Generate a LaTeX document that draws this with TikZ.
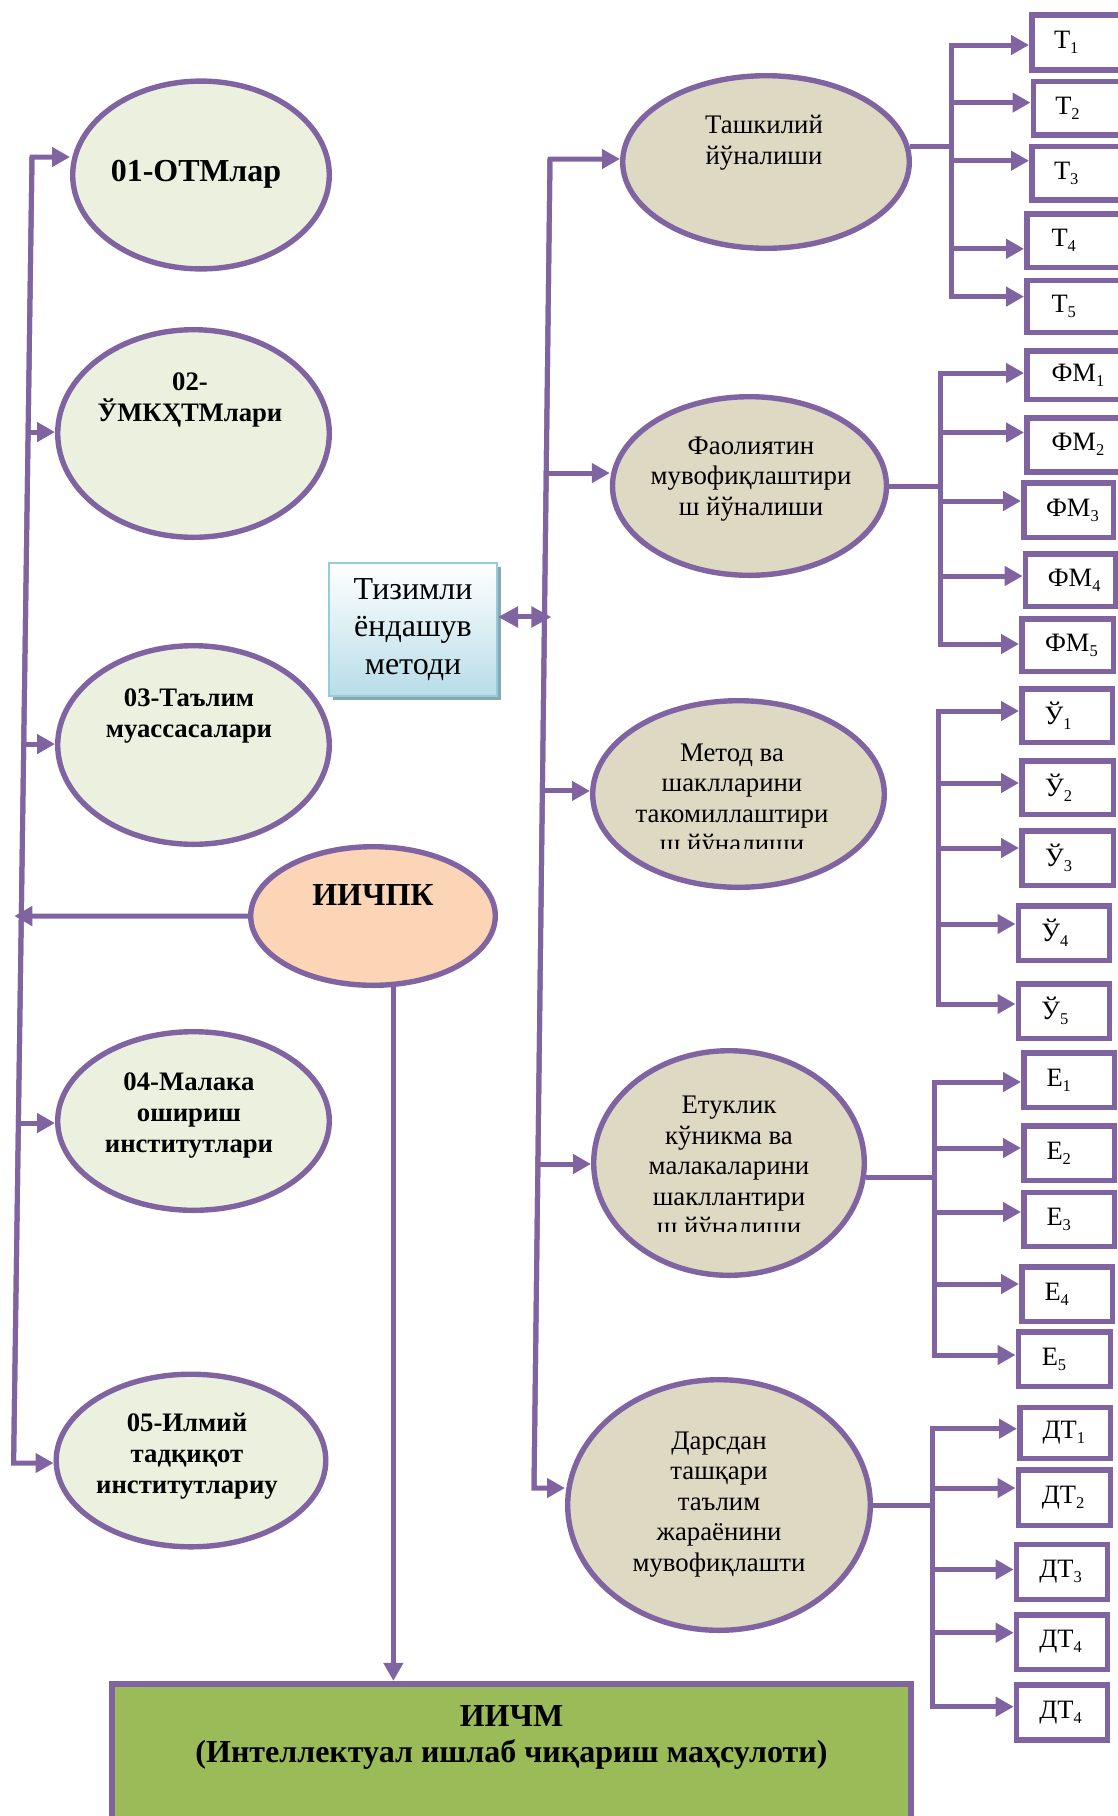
\documentclass[tikz,border=0pt]{standalone}
\usepackage{fontspec}
\setmainfont{Liberation Serif}
\usetikzlibrary{arrows.meta,shapes.geometric,calc,shadows}
\definecolor{pur}{HTML}{8064A2}
\definecolor{lg}{HTML}{EBF1DE}
\definecolor{tanf}{HTML}{DDD9C3}
\definecolor{peach}{HTML}{FBD5B5}
\definecolor{grn}{HTML}{9BBB59}
\definecolor{tzb}{HTML}{B7DDE8}
\definecolor{tzd}{HTML}{92CDDC}
\definecolor{tzs}{HTML}{8AA6B0}
\newcommand{\SB}[1]{\raisebox{-5pt}{\fontsize{16.5}{16.5}\selectfont #1}}
\newcommand{\MyBox}[6]{\node[bxs, minimum width={(#4-#2-5.5)*1pt}, minimum height={(#5-#3-5.5)*1pt}] (#1) at ({(#2+#4)/2},{(#3+#5)/2}) {#6};}
\tikzset{
  ln/.style={draw=pur, line width=5pt},
  arr/.style={ln, -{Triangle[length=18pt,width=19pt]}},
  ell/.style={ellipse, draw=pur, line width=5.4pt, inner sep=0pt},
  bxs/.style={rectangle, draw=pur, line width=5.5pt, fill=white, inner xsep=22pt, inner ysep=0pt, text width=45pt, align=left, font=\fontsize{26.5}{28}\selectfont},
  lt/.style={align=center, font=\fontsize{26.8}{30.5}\selectfont, inner sep=0pt},
  lb/.style={align=center, font=\bfseries\fontsize{26.7}{31}\selectfont, inner sep=0pt},
}
\begin{document}
\begin{tikzpicture}[x=1pt,y=-1pt]
\useasboundingbox (0,0) rectangle (1118,1816);
\clip (0,0) rectangle (1118,1816);

% ---------- left ellipses ----------
\node[ell, fill=lg, minimum width=256.6pt, minimum height=187.8pt] (e01) at (201,175) {};
\node[ell, fill=lg, minimum width=271.6pt, minimum height=207.6pt] (e02) at (193.5,433.5) {};
\node[ell, fill=lg, minimum width=271.6pt, minimum height=198.6pt] (e03) at (193.5,745) {};
\node[ell, fill=lg, minimum width=271.6pt, minimum height=178.6pt] (e04) at (193.5,1121) {};
\node[ell, fill=lg, minimum width=269.6pt, minimum height=172.6pt] (e05) at (191,1460.5) {};
\node[ell, fill=peach, minimum width=244.6pt, minimum height=138.6pt] (ii) at (373,916) {};

\node[align=center, inner sep=0pt, font=\bfseries\fontsize{32}{36}\selectfont] (t01) at (196,174) {01-ОТМлар};
\node[lb] (t02) at (190,400) {02-\\ЎМКҲТМлари};
\node[lb] (t03) at (189,716) {03-Таълим\\муассасалари};
\node[lb] (t04) at (189,1115) {04-Малака\\ошириш\\институтлари};
\node[lb] (t05) at (187,1456) {05-Илмий\\тадқиқот\\институтлариу};
\node[align=center, inner sep=0pt, font=\bfseries\fontsize{32}{36}\selectfont] (tii) at (373,895) {ИИЧПК};

% ---------- system approach box ----------
\node[rectangle, draw=tzd, line width=2pt, top color=white, bottom color=tzb,
      general shadow={fill=tzs, shadow xshift=4pt, shadow yshift=-4pt},
      minimum width=168pt, minimum height=133pt, inner sep=0pt] (tz) at (413,629.5) {};
\node[align=center, inner sep=0pt, font=\fontsize{32}{37.5}\selectfont] (ttz) at (413,629.5) {Тизимли\\ёндашув\\методи};

% ---------- right ellipses ----------
\node[ell, fill=tanf, minimum width=286.6pt, minimum height=172.6pt] (tash) at (766,162) {};
\node[ell, fill=tanf, minimum width=274pt, minimum height=178.6pt] (faol) at (749.5,486) {};
\node[ell, fill=tanf, minimum width=291.6pt, minimum height=186.6pt] (metod) at (738.5,794) {};
\node[ell, fill=tanf, minimum width=270.6pt, minimum height=224.6pt] (etuk) at (729,1163) {};
\node[ell, fill=tanf, minimum width=302.6pt, minimum height=250.6pt] (dars) at (719,1505) {};

\node[lt] (ttash) at (764,142.5) {Ташкилий\\йўналиши};
\node[lt] (tfaol) at (751,479) {Фаолиятин\\мувофиқлаштири\\ш йўналиши};
\begin{scope}
\clip (560,700) rectangle (900,848);
\node[lt] (tmetod) at (732,801) {Метод ва\\шаклларини\\такомиллаштири\\ш йўналиши};
\end{scope}
\begin{scope}
\clip (560,1060) rectangle (900,1231);
\node[lt] (tetuk) at (729,1169) {Етуклик\\кўникма ва\\малакаларини\\шакллантири\\ш йўналиши};
\end{scope}
\node[lt] (tdars) at (719,1504.5) {Дарсдан\\ташқари\\таълим\\жараёнини\\мувофиқлашти};

% ---------- bottom box ----------
\node[rectangle, draw=pur, line width=6.5pt, fill=grn, minimum width=798.6pt, minimum height=145.8pt, inner sep=0pt] (iichm) at (511.5,1757) {};
\node[align=center, inner sep=0pt, font=\bfseries\fontsize{32}{36}\selectfont] (tiichm) at (511.5,1737) {ИИЧМ\\(Интеллектуал ишлаб чиқариш маҳсулоти)};

% ---------- small boxes ----------
\MyBox{T1}{1029}{12}{1124}{72.7}{Т\SB{1}}
\MyBox{T2}{1031.5}{78.5}{1124}{137.8}{Т\SB{2}}
\MyBox{T3}{1029}{143.5}{1124}{202.8}{Т\SB{3}}
\MyBox{T4}{1024}{211}{1124}{270}{Т\SB{4}}
\MyBox{T5}{1024}{277.5}{1124}{335}{Т\SB{5}}
\MyBox{F1}{1024}{348}{1124}{402}{ФМ\SB{1}}
\MyBox{F2}{1024}{415}{1124}{474.5}{ФМ\SB{2}}
\MyBox{F3}{1021}{480}{1116}{540}{ФМ\SB{3}}
\MyBox{F4}{1022.6}{551}{1118}{609}{ФМ\SB{4}}
\MyBox{F5}{1019}{616}{1116}{674}{ФМ\SB{5}}
\MyBox{U1}{1019}{686}{1115}{745}{Ў\SB{1}}
\MyBox{U2}{1019}{758}{1116}{817}{Ў\SB{2}}
\MyBox{U3}{1019}{828}{1116}{888}{Ў\SB{3}}
\MyBox{U4}{1015.5}{903}{1112}{963}{Ў\SB{4}}
\MyBox{U5}{1015.5}{981}{1112}{1041}{Ў\SB{5}}
\MyBox{E1}{1021}{1050}{1117}{1110}{Е\SB{1}}
\MyBox{E2}{1021}{1123}{1117}{1183}{Е\SB{2}}
\MyBox{E3}{1021}{1189.5}{1117}{1249}{Е\SB{3}}
\MyBox{E4}{1019}{1264}{1115}{1324}{Е\SB{4}}
\MyBox{E5}{1015.5}{1329}{1113}{1389}{Е\SB{5}}
\MyBox{D1}{1017}{1404.5}{1113}{1461}{ДТ\SB{1}}
\MyBox{D2}{1015.5}{1467}{1113}{1528}{ДТ\SB{2}}
\MyBox{D3}{1013.7}{1541.7}{1110}{1602}{ДТ\SB{3}}
\MyBox{D4}{1013.7}{1612}{1110}{1672}{ДТ\SB{4}}
\MyBox{D5}{1013.7}{1682}{1110}{1742.8}{ДТ\SB{4}}

% ---------- left trunk ----------
\coordinate (L1) at (32,157);
\coordinate (L5) at (13.6,1463);
\coordinate (L2) at ($(L1)!0.2106!(L5)$);
\coordinate (L3) at ($(L1)!0.4495!(L5)$);
\coordinate (Lk) at ($(L1)!0.5812!(L5)+(-7,0)$);
\coordinate (L4) at ($(L1)!0.7397!(L5)$);
\draw[arr] (L5) -- (L1) -- (L1 -| e01.west);
\draw[arr] (L1) -- (L5) -- (L5 -| e05.west);
\draw[arr] (L2) -- (L2 -| e02.west);
\draw[arr] (L3) -- (L3 -| e03.west);
\draw[arr] (L4) -- (L4 -| e04.west);
\draw[arr] (ii.west) -- (Lk);
\draw[arr] (ii.-74) -- (ii.-74 |- iichm.north);

% ---------- right trunk ----------
\coordinate (R1) at (550,159);
\coordinate (R6) at (534,1488);
\coordinate (R2) at ($(R1)!0.2363!(R6)$);
\coordinate (Rt) at ($(R1)!0.3446!(R6)+(7,0)$);
\coordinate (R3) at ($(R1)!0.4755!(R6)$);
\coordinate (R4) at ($(R1)!0.7562!(R6)$);
\draw[arr] (R6) -- (R1) -- (R1 -| tash.west);
\draw[arr] (R1) -- (R6) -- (R6 -| dars.west);
\draw[arr] (R2) -- (R2 -| faol.west);
\draw[arr] (R3) -- (R3 -| metod.west);
\draw[arr] (R4) -- (R4 -| etuk.west);
\draw[ln, {Triangle[length=20pt,width=20pt]}-{Triangle[length=20pt,width=20pt]}] (tz.east |- Rt) -- (Rt);

% ---------- T bracket ----------
\coordinate (Tt) at (951.5,45);
\coordinate (Tb) at (951.5,296.6);
\coordinate (T2a) at (951.5,102.6);
\coordinate (T3a) at (951.5,160.7);
\coordinate (T4a) at (951.5,248.8);
\draw[ln] (tash.6) -- (tash.6 -| Tt);
\draw[arr] (Tb) -- (Tt) -- (Tt -| T1.west);
\draw[arr] (Tt) -- (Tb) -- (Tb -| T5.west);
\draw[arr] (T2a) -- (T2a -| T2.west);
\draw[arr] (T3a) -- (T3a -| T3.west);
\draw[arr] (T4a) -- (T4a -| T4.west);

% ---------- FM bracket ----------
\coordinate (Ft) at (940,373);
\coordinate (Fb) at (940,644);
\coordinate (F2a) at (940,432.5);
\coordinate (F3a) at (940,501);
\coordinate (F4a) at (940,576);
\draw[ln] (faol.east) -- (faol.east -| Ft);
\draw[arr] (Fb) -- (Ft) -- (Ft -| F1.west);
\draw[arr] (Ft) -- (Fb) -- (Fb -| F5.west);
\draw[arr] (F2a) -- (F2a -| F2.west);
\draw[arr] (F3a) -- (F3a -| F3.west);
\draw[arr] (F4a) -- (F4a -| F4.west);

% ---------- U bracket ----------
\coordinate (Ut) at (938,711);
\coordinate (Ub) at (938,1004);
\coordinate (U2a) at (938,783);
\coordinate (U3a) at (938,848);
\coordinate (U4a) at (938,924);
\draw[arr] (Ub) -- (Ut) -- (Ut -| U1.west);
\draw[arr] (Ut) -- (Ub) -- (Ub -| U5.west);
\draw[arr] (U2a) -- (U2a -| U2.west);
\draw[arr] (U3a) -- (U3a -| U3.west);
\draw[arr] (U4a) -- (U4a -| U4.west);

% ---------- E bracket ----------
\coordinate (Et) at (934,1082);
\coordinate (Eb) at (934,1355);
\coordinate (E2a) at (934,1148);
\coordinate (E3a) at (934,1212);
\coordinate (E4a) at (934,1284);
\draw[ln] (etuk.-6) -- (etuk.-6 -| Et);
\draw[arr] (Eb) -- (Et) -- (Et -| E1.west);
\draw[arr] (Et) -- (Eb) -- (Eb -| E5.west);
\draw[arr] (E2a) -- (E2a -| E2.west);
\draw[arr] (E3a) -- (E3a -| E3.west);
\draw[arr] (E4a) -- (E4a -| E4.west);

% ---------- DT bracket ----------
\coordinate (Dt) at (932,1428.7);
\coordinate (Db) at (932,1706.7);
\coordinate (D2a) at (932,1488);
\coordinate (D3a) at (932,1569.5);
\coordinate (D4a) at (932,1632.7);
\draw[ln] (dars.east) -- (dars.east -| Dt);
\draw[arr] (Db) -- (Dt) -- (Dt -| D1.west);
\draw[arr] (Dt) -- (Db) -- (Db -| D5.west);
\draw[arr] (D2a) -- (D2a -| D2.west);
\draw[arr] (D3a) -- (D3a -| D3.west);
\draw[arr] (D4a) -- (D4a -| D4.west);
\end{tikzpicture}
\end{document}
